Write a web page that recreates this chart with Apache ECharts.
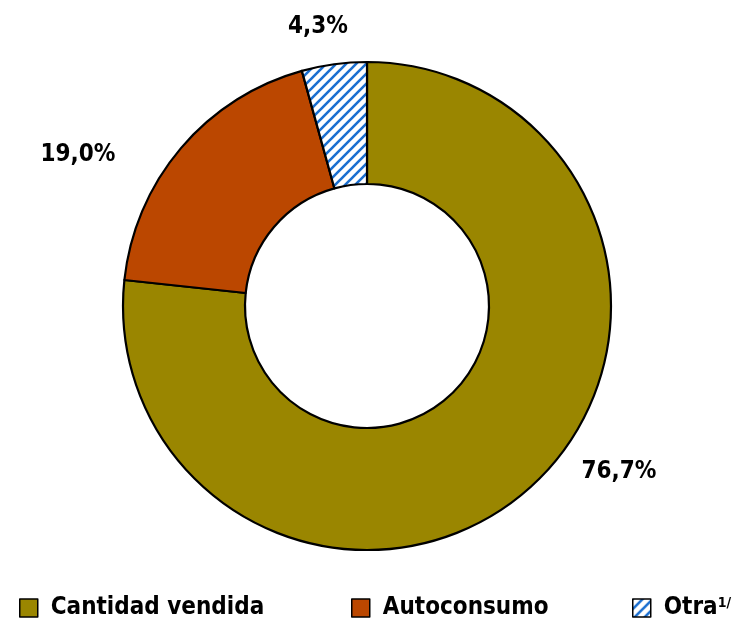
<!DOCTYPE html>
<html>
<head>
<meta charset="utf-8">
<script src="https://cdn.jsdelivr.net/npm/echarts@6/dist/echarts.min.js"></script>
<style>html,body{margin:0;padding:0;background:#fff;}#c{width:736px;height:618px;}</style>
</head>
<body>
<div id="c"></div>
<script>
var categories = ['Cantidad vendida', 'Autoconsumo', 'Otra'];
var values = [76.7, 19.0, 4.3];
var labelsText = ['76,7%', '19,0%', '4,3%'];

var FONT = '"Liberation Sans Narrow", "DejaVu Sans Condensed", sans-serif';

function hatch() {
  var s = 10;
  var c = document.createElement('canvas');
  c.width = s; c.height = s;
  var g = c.getContext('2d');
  g.fillStyle = '#ffffff';
  g.fillRect(0, 0, s, s);
  g.strokeStyle = '#1b6fd0';
  g.lineWidth = 2.6;
  g.beginPath();
  g.moveTo(-2, s + 2); g.lineTo(s + 2, -2);
  g.moveTo(-2, 2); g.lineTo(2, -2);
  g.moveTo(s - 2, s + 2); g.lineTo(s + 2, s - 2);
  g.stroke();
  return c;
}

var colors = ['#9a8600', '#bb4700', { image: hatch(), repeat: 'repeat' }];
var labelPos = [[619, 472], [78, 155], [318, 27]];

var chart = echarts.init(document.getElementById('c'), null, { renderer: 'canvas' });
var data = categories.map(function (n, i) {
  return { name: n, value: values[i], itemStyle: { color: colors[i] } };
});

function legend(name, left) {
  return {
    data: [name],
    left: left,
    top: 591,
    itemWidth: 18,
    itemHeight: 18,
    itemGap: 0,
    icon: 'rect',
    itemStyle: { borderColor: '#000', borderWidth: 1.5 },
    selectedMode: false,
    formatter: function (n) { return n === 'Otra' ? 'Otra{sup|1/}' : n; },
    textStyle: {
      fontFamily: FONT, fontWeight: 'bold', fontSize: 24, color: '#000', padding: [0, 0, 0, 8],
      rich: { sup: { fontFamily: FONT, fontWeight: 'bold', fontSize: 14, color: '#000', verticalAlign: 'top', padding: [0, 0, 10, 0] } }
    }
  };
}

chart.setOption({
  animation: false,
  backgroundColor: '#fff',
  legend: [legend('Cantidad vendida', 14), legend('Autoconsumo', 346), legend('Otra', 627)],
  series: [{
    type: 'pie',
    center: [367, 306],
    radius: [122, 244],
    startAngle: 90,
    clockwise: true,
    data: data,
    itemStyle: { borderColor: '#000', borderWidth: 2.2 },
    emphasis: { disabled: true },
    label: {
      show: true,
      position: 'outside',
      formatter: function (p) { return labelsText[p.dataIndex]; },
      fontFamily: FONT, fontWeight: 'bold', fontSize: 24, color: '#000'
    },
    labelLine: { show: false },
    labelLayout: function (p) {
      var q = labelPos[p.dataIndex];
      return { x: q[0], y: q[1], align: 'center', verticalAlign: 'middle' };
    }
  }]
});
</script>
</body>
</html>
